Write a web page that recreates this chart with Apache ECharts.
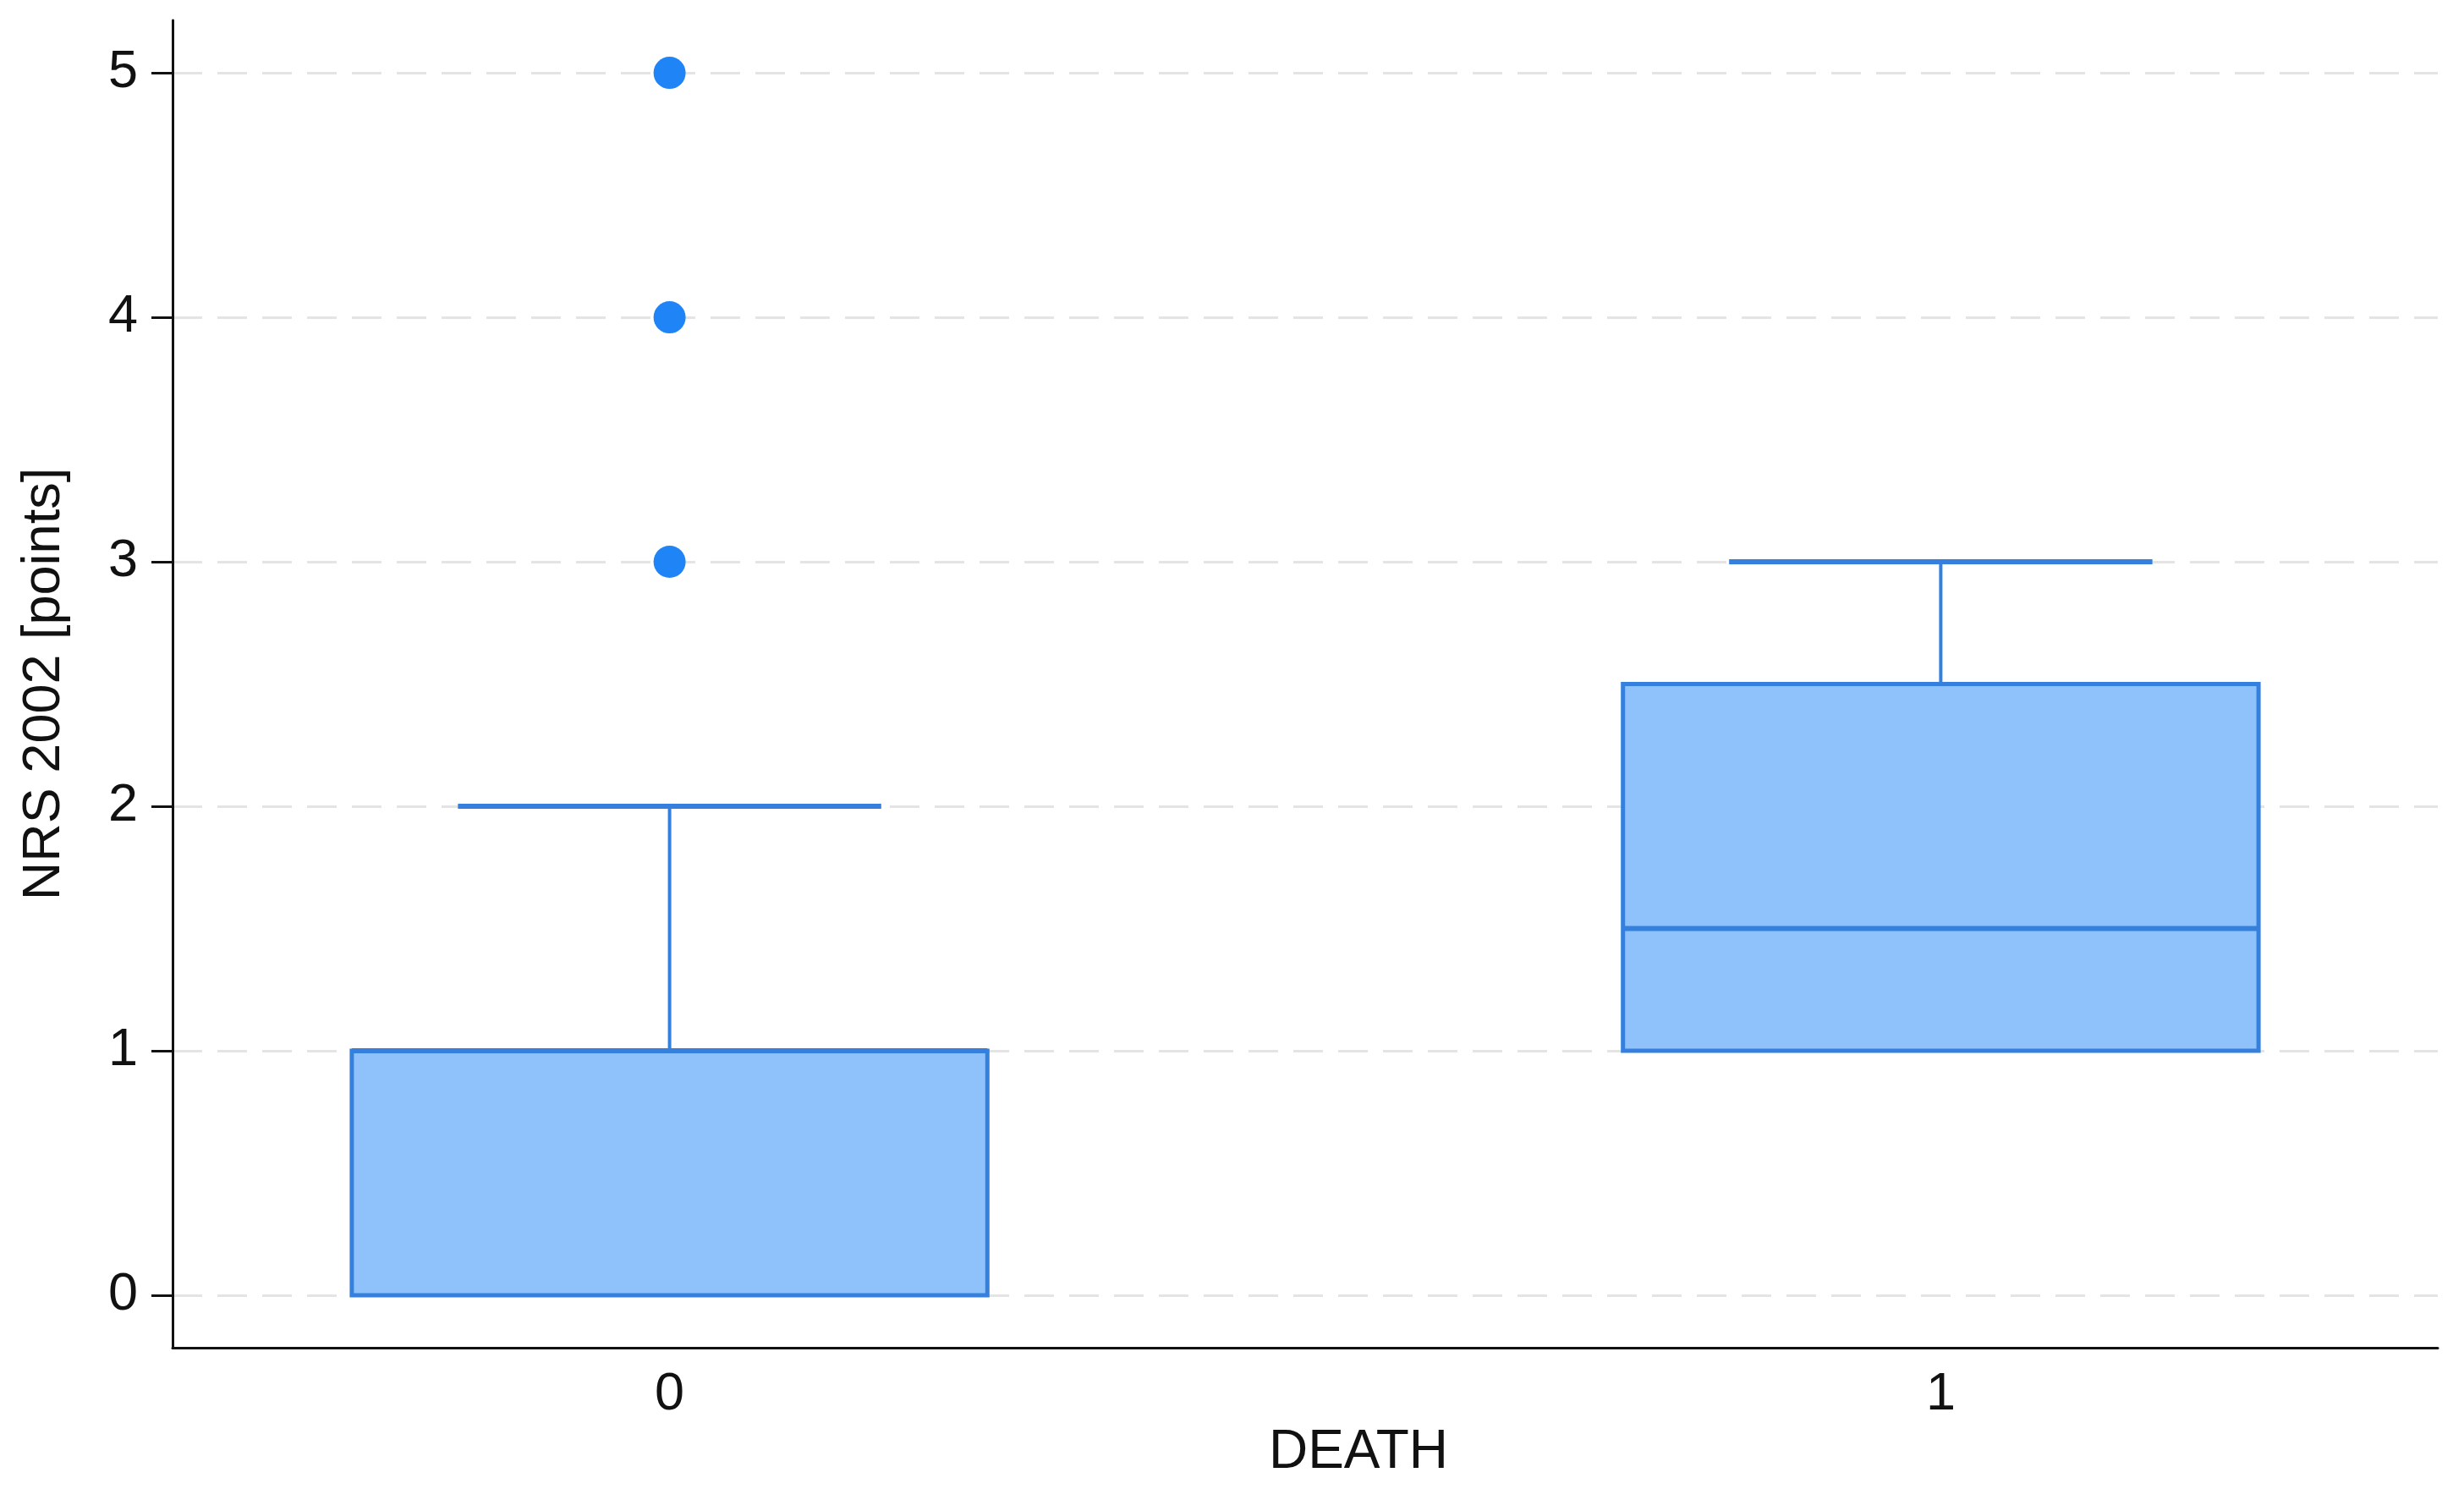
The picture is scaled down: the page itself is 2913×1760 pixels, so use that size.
<!DOCTYPE html>
<html>
<head>
<meta charset="utf-8">
<script src="https://cdn.jsdelivr.net/npm/echarts@6/dist/echarts.min.js"></script>
<style>
html,body{margin:0;padding:0;background:#fff;}
#chart{width:2913px;height:1760px;}
</style>
</head>
<body>
<div id="chart"></div>
<script>
// ---- data ----
const groups = [0, 1];                 // DEATH
const whiskerMin = [0, 1];
const q1 = [0, 1];
const median = [1, 1.5];
const q3 = [1, 2.5];
const whiskerMax = [2, 3];
const outlierGroup = [0, 0, 0];
const outlierValue = [3, 4, 5];
const yTicks = [0, 1, 2, 3, 4, 5];
const xTicks = [0, 1];

const boxData = groups.map((g, i) => [g, whiskerMin[i], q1[i], median[i], q3[i], whiskerMax[i]]);
const outlierData = outlierGroup.map((g, i) => [g, outlierValue[i]]);

const FONT = '"Liberation Sans", Arial, Helvetica, sans-serif';
const BOX_FILL = '#8fc1fb';
const BOX_LINE = '#3580dc';
const BOX_W = 0.5;    // in x units
const CAP_W = 0.333;

const chart = echarts.init(document.getElementById('chart'), null, {renderer: 'canvas'});

function renderBox(params, api) {
  const x = api.value(0);
  const vMin = api.value(1), vQ1 = api.value(2), vMed = api.value(3), vQ3 = api.value(4), vMax = api.value(5);
  const halfBox = api.size([BOX_W, 0])[0] / 2;
  const halfCap = api.size([CAP_W, 0])[0] / 2;
  const pQ1 = api.coord([x, vQ1]);
  const pQ3 = api.coord([x, vQ3]);
  const pMed = api.coord([x, vMed]);
  const pMin = api.coord([x, vMin]);
  const pMax = api.coord([x, vMax]);
  const cx = pQ1[0];
  const children = [];
  if (vMax > vQ3) {
    children.push({type: 'line', shape: {x1: cx, y1: pQ3[1], x2: cx, y2: pMax[1]}, style: {stroke: BOX_LINE, lineWidth: 4}});
    children.push({type: 'line', shape: {x1: cx - halfCap, y1: pMax[1], x2: cx + halfCap, y2: pMax[1]}, style: {stroke: BOX_LINE, lineWidth: 6}});
  }
  if (vMin < vQ1) {
    children.push({type: 'line', shape: {x1: cx, y1: pQ1[1], x2: cx, y2: pMin[1]}, style: {stroke: BOX_LINE, lineWidth: 4}});
    children.push({type: 'line', shape: {x1: cx - halfCap, y1: pMin[1], x2: cx + halfCap, y2: pMin[1]}, style: {stroke: BOX_LINE, lineWidth: 6}});
  }
  children.push({
    type: 'rect',
    shape: {x: cx - halfBox, y: pQ3[1], width: halfBox * 2, height: pQ1[1] - pQ3[1]},
    style: {fill: BOX_FILL, stroke: BOX_LINE, lineWidth: 5}
  });
  children.push({type: 'line', shape: {x1: cx - halfBox, y1: pMed[1], x2: cx + halfBox, y2: pMed[1]}, style: {stroke: BOX_LINE, lineWidth: 6}});
  return {type: 'group', children: children};
}

const option = {
  backgroundColor: '#ffffff',
  animation: false,
  grid: {left: 204, right: 31, top: 24, bottom: 167, containLabel: false},
  xAxis: {
    type: 'value',
    min: -0.391,
    max: 1.391,
    name: 'DEATH',
    nameLocation: 'middle',
    nameGap: 90,
    nameTextStyle: {fontFamily: FONT, fontSize: 64, color: '#111', padding: [0, 0, 0, 126]},
    axisLine: {show: true, onZero: false, lineStyle: {color: '#111', width: 3}},
    axisTick: {show: false},
    splitLine: {show: false},
    axisLabel: {customValues: xTicks, margin: 24, fontFamily: FONT, fontSize: 63, color: '#111'}
  },
  yAxis: {
    type: 'value',
    min: -0.215,
    max: 5.215,
    name: 'NRS 2002 [points]',
    nameLocation: 'middle',
    nameGap: 120,
    nameTextStyle: {fontFamily: FONT, fontSize: 63, color: '#111'},
    axisLine: {show: true, onZero: false, lineStyle: {color: '#111', width: 3}},
    axisTick: {show: true, customValues: yTicks, length: 25, lineStyle: {color: '#111', width: 3}},
    axisLabel: {customValues: yTicks, margin: 41, fontFamily: FONT, fontSize: 63, color: '#111'},
    splitLine: {show: true, lineStyle: {color: '#e4e4e4', width: 3, type: [35, 18]}}
  },
  series: [
    {
      type: 'custom',
      name: 'box',
      renderItem: renderBox,
      encode: {x: 0, y: [1, 2, 3, 4, 5]},
      data: boxData,
      z: 2
    },
    {
      type: 'scatter',
      name: 'outliers',
      data: outlierData,
      symbol: 'circle',
      symbolSize: 38,
      itemStyle: {color: '#1f84f5', opacity: 1},
      z: 3
    }
  ]
};
chart.setOption(option);
</script>
</body>
</html>
